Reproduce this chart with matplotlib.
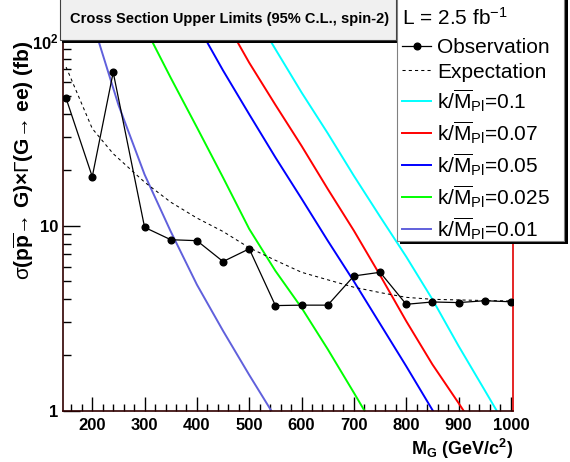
import matplotlib
matplotlib.use("Agg")
import matplotlib.pyplot as plt
from matplotlib.patches import Rectangle
from matplotlib.ticker import MultipleLocator, FixedLocator, FuncFormatter, NullFormatter

plt.rcParams['font.family'] = ['Liberation Sans', 'DejaVu Sans']
plt.rcParams['mathtext.fontset'] = 'custom'
plt.rcParams['mathtext.rm'] = 'Liberation Sans'
plt.rcParams['mathtext.bf'] = 'Liberation Sans:bold'
plt.rcParams['mathtext.it'] = 'Liberation Sans:italic'
plt.rcParams['mathtext.sf'] = 'Liberation Sans'

# observed / expected limits (fb)
mass = [150, 200, 240, 300, 350, 400, 450, 500, 550, 600, 650, 700, 750, 800, 850, 900, 950, 1000]
observed = [48.8, 18.4, 67.5, 9.8, 8.4, 8.3, 6.4, 7.5, 3.7, 3.72, 3.72, 5.35, 5.6, 3.76, 3.87, 3.84, 3.93, 3.88]
expected = [72, 33.5, 24.5, 17.2, 13.4, 11.0, 9.3, 7.6, 6.5, 5.6, 5.1, 4.65, 4.35, 4.1, 4.0, 3.97, 3.94, 3.92]

# RS graviton theory curves for each k/Mpl
mass_k01 = [500, 550, 600, 650, 700, 750, 800, 850, 900, 950, 1000]
sig_k01 = [155, 90, 52.5, 31.6, 18.6, 11.2, 6.8, 4.0, 2.24, 1.29, 0.74]
mass_k007 = [450, 500, 550, 600, 650, 700, 750, 800, 850, 900, 950]
sig_k007 = [135, 76, 45, 27, 15.8, 9.4, 5.4, 3.05, 1.78, 1.1, 0.67]
mass_k005 = [400, 450, 500, 550, 600, 650, 700, 750, 800, 850, 900]
sig_k005 = [123, 69, 40, 23.4, 14, 8.3, 5.0, 2.95, 1.74, 1.01, 0.6]
mass_k0025 = [300, 350, 400, 450, 500, 550, 600, 650, 700, 750]
sig_k0025 = [119, 63, 34, 18.2, 9.6, 5.7, 3.6, 2.15, 1.25, 0.72]
mass_k001 = [200, 250, 300, 350, 400, 450, 500, 550, 600]
sig_k001 = [128, 45, 18.9, 9.3, 4.8, 2.7, 1.56, 0.92, 0.55]

W, H = 570, 462
fig = plt.figure(figsize=(W / 100, H / 100), dpi=100)
ax = fig.add_axes([62.7 / W, 1 - 410.7 / H, 450 / W, 370 / H])

lines = []
kl = r'k/$\overline{\mathrm{M}}_{\mathrm{Pl}}$='
for m, s, c, lab in [(mass_k01, sig_k01, '#00ffff', kl + '0.1'),
                     (mass_k007, sig_k007, '#ff0000', kl + '0.07'),
                     (mass_k005, sig_k005, '#0000ff', kl + '0.05'),
                     (mass_k0025, sig_k0025, '#00ff00', kl + '0.025'),
                     (mass_k001, sig_k001, '#6060dc', kl + '0.01')]:
    l, = ax.plot(m, s, color=c, lw=1.4, label=lab, zorder=2)
    lines.append(l)

l_exp, = ax.plot(mass, expected, color='black', lw=0.75, ls=(0, (3, 3)), label='Expectation', zorder=3)
l_obs, = ax.plot(mass, observed, color='black', lw=0.9, marker='o', ms=4.8, label='Observation', zorder=4)

ax.set_yscale('log')
ax.set_xlim(143.5, 1003.5)
ax.set_ylim(1, 100)

ax.xaxis.set_major_locator(MultipleLocator(100))
ax.xaxis.set_minor_locator(MultipleLocator(20))
ax.yaxis.set_major_locator(FixedLocator([1, 10, 100]))
ax.yaxis.set_minor_locator(FixedLocator([k * d for d in (1, 10) for k in range(2, 10)]))
ax.yaxis.set_major_formatter(FuncFormatter(
    lambda v, p: {1: '1', 10: '10', 100: r'$\mathbf{10^{2}}$'}.get(int(round(v)), '')))
ax.yaxis.set_minor_formatter(NullFormatter())

ax.tick_params(axis='x', which='major', direction='in', length=10, width=1, labelsize=12, pad=5)
ax.tick_params(axis='x', which='minor', direction='in', length=5, width=1)
ax.tick_params(axis='y', which='major', direction='in', length=12, width=1, labelsize=12, pad=3)
ax.tick_params(axis='y', which='minor', direction='in', length=6, width=1)
for t in ax.get_xticklabels() + ax.get_yticklabels():
    t.set_fontweight('bold')

ax.spines['top'].set_visible(False)
ax.spines['right'].set_color('#e00000')
ax.spines['left'].set_color('#300000')
ax.spines['bottom'].set_color('#300000')
for s in ax.spines.values():
    s.set_linewidth(1.2)

ax.set_xlabel(r'$\mathbf{M_{G}}$ (GeV/c$^{\mathbf{2}}$)', fontsize=13, fontweight='bold', loc='right')
ax.xaxis.set_label_coords(1.0, -0.07)
ax.set_ylabel(r'$\mathrm{\sigma}$(p$\mathbf{\overline{p}}$→ G)×$\mathrm{\Gamma}$(G→ ee) (fb)',
              fontsize=15, fontweight='bold', loc='top')
ax.yaxis.set_label_coords(-0.06, 1.0)

# title box
tf = fig.transFigure
fig.add_artist(Rectangle((62 / W, (H - 43) / H), 337 / W, 60 / H, transform=tf,
                         facecolor='black', edgecolor='none', zorder=3))
fig.add_artist(Rectangle((60 / W, (H - 40) / H), 336 / W, 60 / H, transform=tf,
                         facecolor='#f0f0f0', edgecolor='#404040', lw=0.8, zorder=3.5))
fig.text(70 / W, 1 - 19 / H, 'Cross Section Upper Limits (95% C.L., spin-2)', fontsize=10.5,
         fontweight='bold', va='center', ha='left', zorder=4)

# legend box
fig.add_artist(Rectangle((400 / W, (H - 244) / H), 168 / W, 260 / H, transform=tf,
                         facecolor='black', edgecolor='none', zorder=3))
fig.add_artist(Rectangle((397 / W, (H - 241) / H), 167 / W, 260 / H, transform=tf,
                         facecolor='white', edgecolor='#808080', lw=0.8, zorder=3.5))
fig.text(402 / W, 1 - 18 / H, r'L = 2.5 fb$^{\mathrm{-1}}$', fontsize=15, va='center', ha='left', zorder=6)

handles = [l_obs, l_exp] + lines
leg = fig.legend(handles, [h.get_label() for h in handles], loc='upper left',
                 bbox_to_anchor=(402 / W, 1 - 38 / H), bbox_transform=tf,
                 frameon=False, fontsize=15, borderpad=0, borderaxespad=0,
                 handlelength=1.4, handletextpad=0.3, labelspacing=0.27)
leg.set_zorder(6)

fig.savefig('out.png', dpi=100)
